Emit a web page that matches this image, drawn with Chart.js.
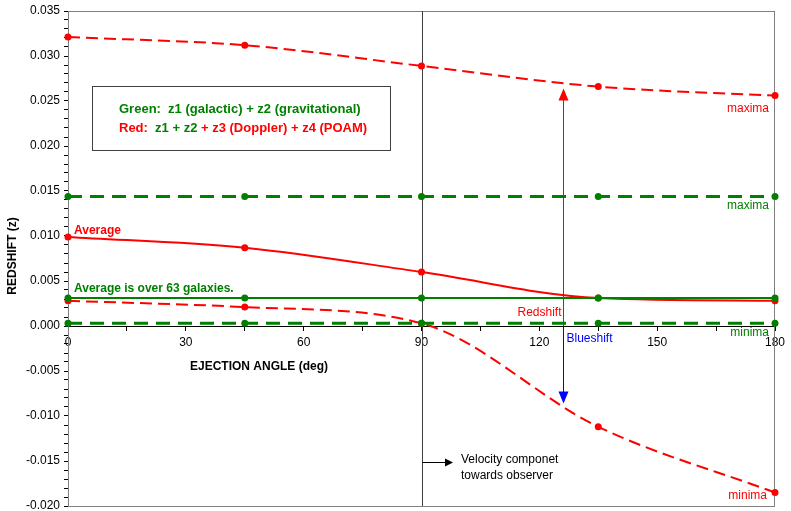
<!DOCTYPE html>
<html>
<head>
<meta charset="utf-8">
<script src="https://cdn.jsdelivr.net/npm/chart.js@4/dist/chart.umd.min.js"></script>
<style>
  html, body { margin: 0; padding: 0; background: #ffffff; }
  #wrap { width: 791px; height: 511px; }
</style>
</head>
<body>
<div id="wrap"><canvas id="c" width="791" height="511"></canvas></div>
<script>
// Ejection angle (deg) and redshift components
const angles   = [0, 45, 90, 135, 180];
const redMax   = [0.0321, 0.0312, 0.0289, 0.0266, 0.0256];
const redAvg   = [0.0099, 0.0087, 0.0060, 0.0031, 0.0028];
const redMin   = [0.0028, 0.0021, 0.0003, -0.0112, -0.0185];
const greenMax = [0.0144, 0.0144, 0.0144, 0.0144, 0.0144];
const greenAvg = [0.0031, 0.0031, 0.0031, 0.0031, 0.0031];
const greenMin = [0.0003, 0.0003, 0.0003, 0.0003, 0.0003];
const xTickLabels = [0, 30, 60, 90, 120, 150, 180];

// Redshift / blueshift arrow at this angle, between these values
const shiftAngle = 126;
const shiftTop = 0.0264;
const shiftBottom = -0.0086;

const RED = '#ff0000';
const GREEN = '#008000';
const FONT = '"Liberation Sans", Arial, sans-serif';

const pts = ys => angles.map((a, i) => ({ x: a, y: ys[i] }));

function series(label, ys, color, dash, width) {
  return {
    label, data: pts(ys),
    borderColor: color, backgroundColor: color,
    borderWidth: width, borderDash: dash,
    pointRadius: 3.5, pointHoverRadius: 3.5,
    pointBackgroundColor: color, pointBorderColor: color, pointBorderWidth: 0,
    cubicInterpolationMode: 'monotone',
    fill: false, clip: 8
  };
}

function arrowHead(ctx, x, y, dir, color) {
  ctx.fillStyle = color;
  ctx.beginPath();
  ctx.moveTo(x, y);
  ctx.lineTo(x - 5, y - dir * 12);
  ctx.lineTo(x + 5, y - dir * 12);
  ctx.closePath();
  ctx.fill();
}

const annotations = {
  id: 'annotations',
  beforeDatasetsDraw(chart) {
    const { ctx, chartArea: ca, scales: { x } } = chart;
    ctx.save();
    // plot frame
    ctx.strokeStyle = '#808080';
    ctx.lineWidth = 1;
    ctx.strokeRect(ca.left + 0.5, ca.top + 0.5, ca.right - ca.left - 1, ca.bottom - ca.top);
    // vertical reference at 90 deg
    const x90 = Math.round(x.getPixelForValue(90)) + 0.5;
    ctx.strokeStyle = '#404040';
    ctx.beginPath();
    ctx.moveTo(x90, ca.top);
    ctx.lineTo(x90, ca.bottom);
    ctx.stroke();
    ctx.restore();
  },
  afterDatasetsDraw(chart) {
    const { ctx, scales: { x, y } } = chart;
    ctx.save();
    ctx.textBaseline = 'middle';

    // info box
    ctx.fillStyle = '#ffffff';
    ctx.fillRect(92, 86, 298, 64);
    ctx.strokeStyle = '#404040';
    ctx.lineWidth = 1;
    ctx.strokeRect(92.5, 86.5, 298, 64);
    ctx.font = 'bold 13px ' + FONT;
    ctx.textAlign = 'left';
    ctx.fillStyle = GREEN;
    ctx.fillText('Green:  z1 (galactic) + z2 (gravitational)', 119, 109);
    let tx = 119;
    const parts = [['Red:  ', RED], ['z1 + z2', GREEN], [' + z3 (Doppler) + z4 (POAM)', RED]];
    for (const [t, c] of parts) {
      ctx.fillStyle = c;
      ctx.fillText(t, tx, 128);
      tx += ctx.measureText(t).width;
    }

    // series notes
    ctx.font = 'bold 12px ' + FONT;
    ctx.fillStyle = RED;
    ctx.fillText('Average', 74, 231);
    ctx.fillStyle = GREEN;
    ctx.fillText('Average is over 63 galaxies.', 74, 289);

    ctx.fillStyle = '#000000';
    ctx.fillText('EJECTION ANGLE (deg)', 190, 367);
    ctx.save();
    ctx.translate(13, 256);
    ctx.rotate(-Math.PI / 2);
    ctx.textAlign = 'center';
    ctx.fillText('REDSHIFT (z)', 0, 0);
    ctx.restore();

    ctx.font = '12px ' + FONT;
    ctx.textAlign = 'right';
    ctx.fillStyle = RED;
    ctx.fillText('maxima', 769, 109);
    ctx.fillText('minima', 767, 496);
    ctx.fillStyle = GREEN;
    ctx.fillText('maxima', 769, 206);
    ctx.fillText('minima', 769, 333);

    // redshift / blueshift arrows
    const sx = Math.round(x.getPixelForValue(shiftAngle)) + 0.5;
    const y0 = y.getPixelForValue(0);
    const yt = y.getPixelForValue(shiftTop);
    const yb = y.getPixelForValue(shiftBottom);
    ctx.lineWidth = 1;
    ctx.strokeStyle = RED;
    ctx.beginPath(); ctx.moveTo(sx, y0); ctx.lineTo(sx, yt + 10); ctx.stroke();
    arrowHead(ctx, sx, yt, -1, RED);
    ctx.strokeStyle = '#0000ff';
    ctx.beginPath(); ctx.moveTo(sx, y0); ctx.lineTo(sx, yb - 10); ctx.stroke();
    arrowHead(ctx, sx, yb, 1, '#0000ff');
    ctx.fillStyle = RED;
    ctx.textAlign = 'right';
    ctx.fillText('Redshift', sx - 2, y0 - 13);
    ctx.fillStyle = '#0000ff';
    ctx.textAlign = 'left';
    ctx.fillText('Blueshift', sx + 3, y0 + 13);

    // velocity component pointer
    const x90 = Math.round(x.getPixelForValue(90)) + 0.5;
    ctx.strokeStyle = '#000000';
    ctx.beginPath(); ctx.moveTo(x90, 462.5); ctx.lineTo(446, 462.5); ctx.stroke();
    ctx.fillStyle = '#000000';
    ctx.beginPath();
    ctx.moveTo(453, 462.5); ctx.lineTo(445, 458.5); ctx.lineTo(445, 466.5);
    ctx.closePath(); ctx.fill();
    ctx.textAlign = 'left';
    ctx.fillText('Velocity componet', 461, 460);
    ctx.fillText('towards observer', 461, 476);
    ctx.restore();
  }
};

new Chart(document.getElementById('c'), {
  type: 'line',
  data: {
    datasets: [
      series('Green maxima', greenMax, GREEN, [14, 8], 3),
      series('Green minima', greenMin, GREEN, [14, 8], 3),
      series('Green average', greenAvg, GREEN, [], 2),
      series('Red maxima', redMax, RED, [12, 6], 2),
      series('Red average', redAvg, RED, [], 2),
      series('Red minima', redMin, RED, [12, 6], 2)
    ]
  },
  options: {
    responsive: false,
    animation: false,
    devicePixelRatio: 1,
    layout: { padding: { top: 11, right: 16, bottom: 5, left: 0 } },
    plugins: { legend: { display: false }, tooltip: { enabled: false } },
    events: [],
    scales: {
      x: {
        type: 'linear',
        min: 0, max: 180,
        position: { y: 0 },
        grid: { drawOnChartArea: false, tickLength: 4, color: '#000000' },
        border: { color: '#000000', width: 1 },
        ticks: {
          stepSize: 15, autoSkip: false, maxRotation: 0, padding: 5,
          color: '#000000', font: { family: FONT, size: 12 },
          callback: v => (xTickLabels.includes(v) ? String(v) : '')
        }
      },
      y: {
        type: 'linear',
        min: -0.02, max: 0.035,
        afterFit: s => { s.width = 68; s.paddingTop = 0; s.paddingBottom = 0; },
        grid: { drawOnChartArea: false, tickLength: 4, color: '#000000' },
        border: { color: '#000000', width: 1 },
        ticks: {
          stepSize: 0.001, autoSkip: false, maxTicksLimit: 100, padding: 4,
          color: '#000000', font: { family: FONT, size: 12 },
          callback: v => {
            const m = Math.round(v * 1000);
            if (m % 5 !== 0) return '';
            return m === 0 ? '0.000' : (m / 1000).toFixed(3);
          }
        }
      }
    }
  },
  plugins: [annotations]
});
</script>
</body>
</html>
